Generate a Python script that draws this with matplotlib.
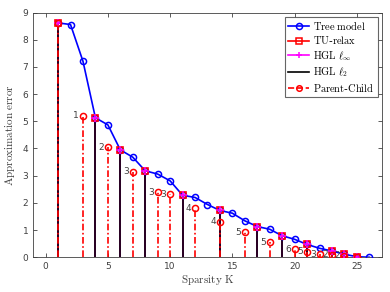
"""Approximation error vs sparsity K: tree model, TU-relax, HGL and Parent-Child."""

import matplotlib
matplotlib.use("Agg")
import matplotlib.pyplot as plt

plt.rcParams["mathtext.fontset"] = "cm"

K_TREE = list(range(1, 27))
ERR_TREE = [8.62, 8.56, 7.21, 5.13, 4.87, 3.95, 3.68, 3.18, 3.06, 2.81,
            2.28, 2.2, 1.94, 1.72, 1.62, 1.34, 1.13, 1.03, 0.79, 0.66,
            0.47, 0.33, 0.23, 0.11, 0.02, 0.0]

K_RELAX = [1, 4, 6, 8, 11, 14, 17, 19, 21, 23, 24, 25]
ERR_RELAX = [8.62, 5.13, 3.95, 3.18, 2.28, 1.72, 1.13, 0.79, 0.47, 0.24, 0.13, 0.02]

K_PC = [1, 3, 5, 7, 9, 10, 12, 14, 16, 18, 20, 21, 22, 23, 24, 25]
ERR_PC = [8.62, 5.21, 4.05, 3.15, 2.39, 2.32, 1.8, 1.31, 0.92, 0.56,
          0.3, 0.21, 0.11, 0.09, 0.05, 0.01]
PC_LABELS = ["", "1", "2", "3", "3", "3", "4", "4", "5", "5",
             "6", "5", "3", "2", "2", ""]

GREY = "#404040"

fig = plt.figure(figsize=(3.9, 2.92), dpi=100)
ax = fig.add_axes([0.085, 0.119, 0.894, 0.838])

ax.plot(K_TREE, ERR_TREE, "-o", color="#0000ff", lw=1.2, ms=4.4,
        mfc="none", mew=1.1, label=r"$\mathrm{Tree\ model}$", zorder=3)

stem_specs = [
    ("#ff0000", "s", r"$\mathrm{TU}$-$\mathrm{relax}$"),
    ("#ff00ff", "+", r"$\mathrm{HGL}\ \ell_\infty$"),
    ("black", None, r"$\mathrm{HGL}\ \ell_2$"),
]
for color, marker, label in stem_specs:
    ax.vlines(K_RELAX, 0, ERR_RELAX, colors=color, lw=1.2, zorder=2)
    ax.plot([], [], "-", color=color, marker=marker, ms=4, mfc="none",
            mew=1.1, lw=1.2, label=label)
ax.plot(K_RELAX, ERR_RELAX, "s", color="#ff0000", ms=4.2, mfc="none",
        mew=1.2, zorder=4)
ax.plot(K_RELAX, ERR_RELAX, "+", color="#ff00ff", ms=5.5, mew=1.1, zorder=5)

ax.vlines(K_PC, 0, ERR_PC, colors="#ff0000", lw=1.2,
          linestyles=(0, (4, 1.5, 1, 1.5)), zorder=4)
ax.plot(K_PC, ERR_PC, "o", color="#ff0000", ms=4.4, mfc="none", mew=1.1,
        zorder=5)
ax.plot([], [], "--o", color="#ff0000", ms=4, mfc="none", mew=1.1, lw=1.2,
        label=r"$\mathrm{Parent}$-$\mathrm{Child}$")

for k, e, lab in zip(K_PC, ERR_PC, PC_LABELS):
    if lab:
        ax.text(k - 0.55, e, lab, ha="center", va="center", fontsize=6.5,
                color=GREY, zorder=6)

ax.set_xlim(-1, 27)
ax.set_ylim(0, 9)
ax.set_xticks([0, 5, 10, 15, 20, 25])
ax.set_yticks(range(10))
ax.tick_params(direction="in", top=True, right=True, labelsize=6.5,
               colors=GREY, length=3, width=0.6)
for s in ax.spines.values():
    s.set_color(GREY)
    s.set_linewidth(0.6)

ax.set_xlabel(r"$\mathrm{Sparsity\ K}$", fontsize=8, color=GREY, labelpad=1)
ax.set_ylabel(r"$\mathrm{Approximation\ error}$", fontsize=8, color=GREY,
              labelpad=4)

leg = ax.legend(loc="upper right", fontsize=7.5, frameon=True, fancybox=False,
                edgecolor=GREY, handlelength=2.0, handletextpad=0.4,
                borderpad=0.3, labelspacing=0.25, borderaxespad=0.4)
leg.get_frame().set_linewidth(0.8)

fig.savefig("out.png", dpi=100)
